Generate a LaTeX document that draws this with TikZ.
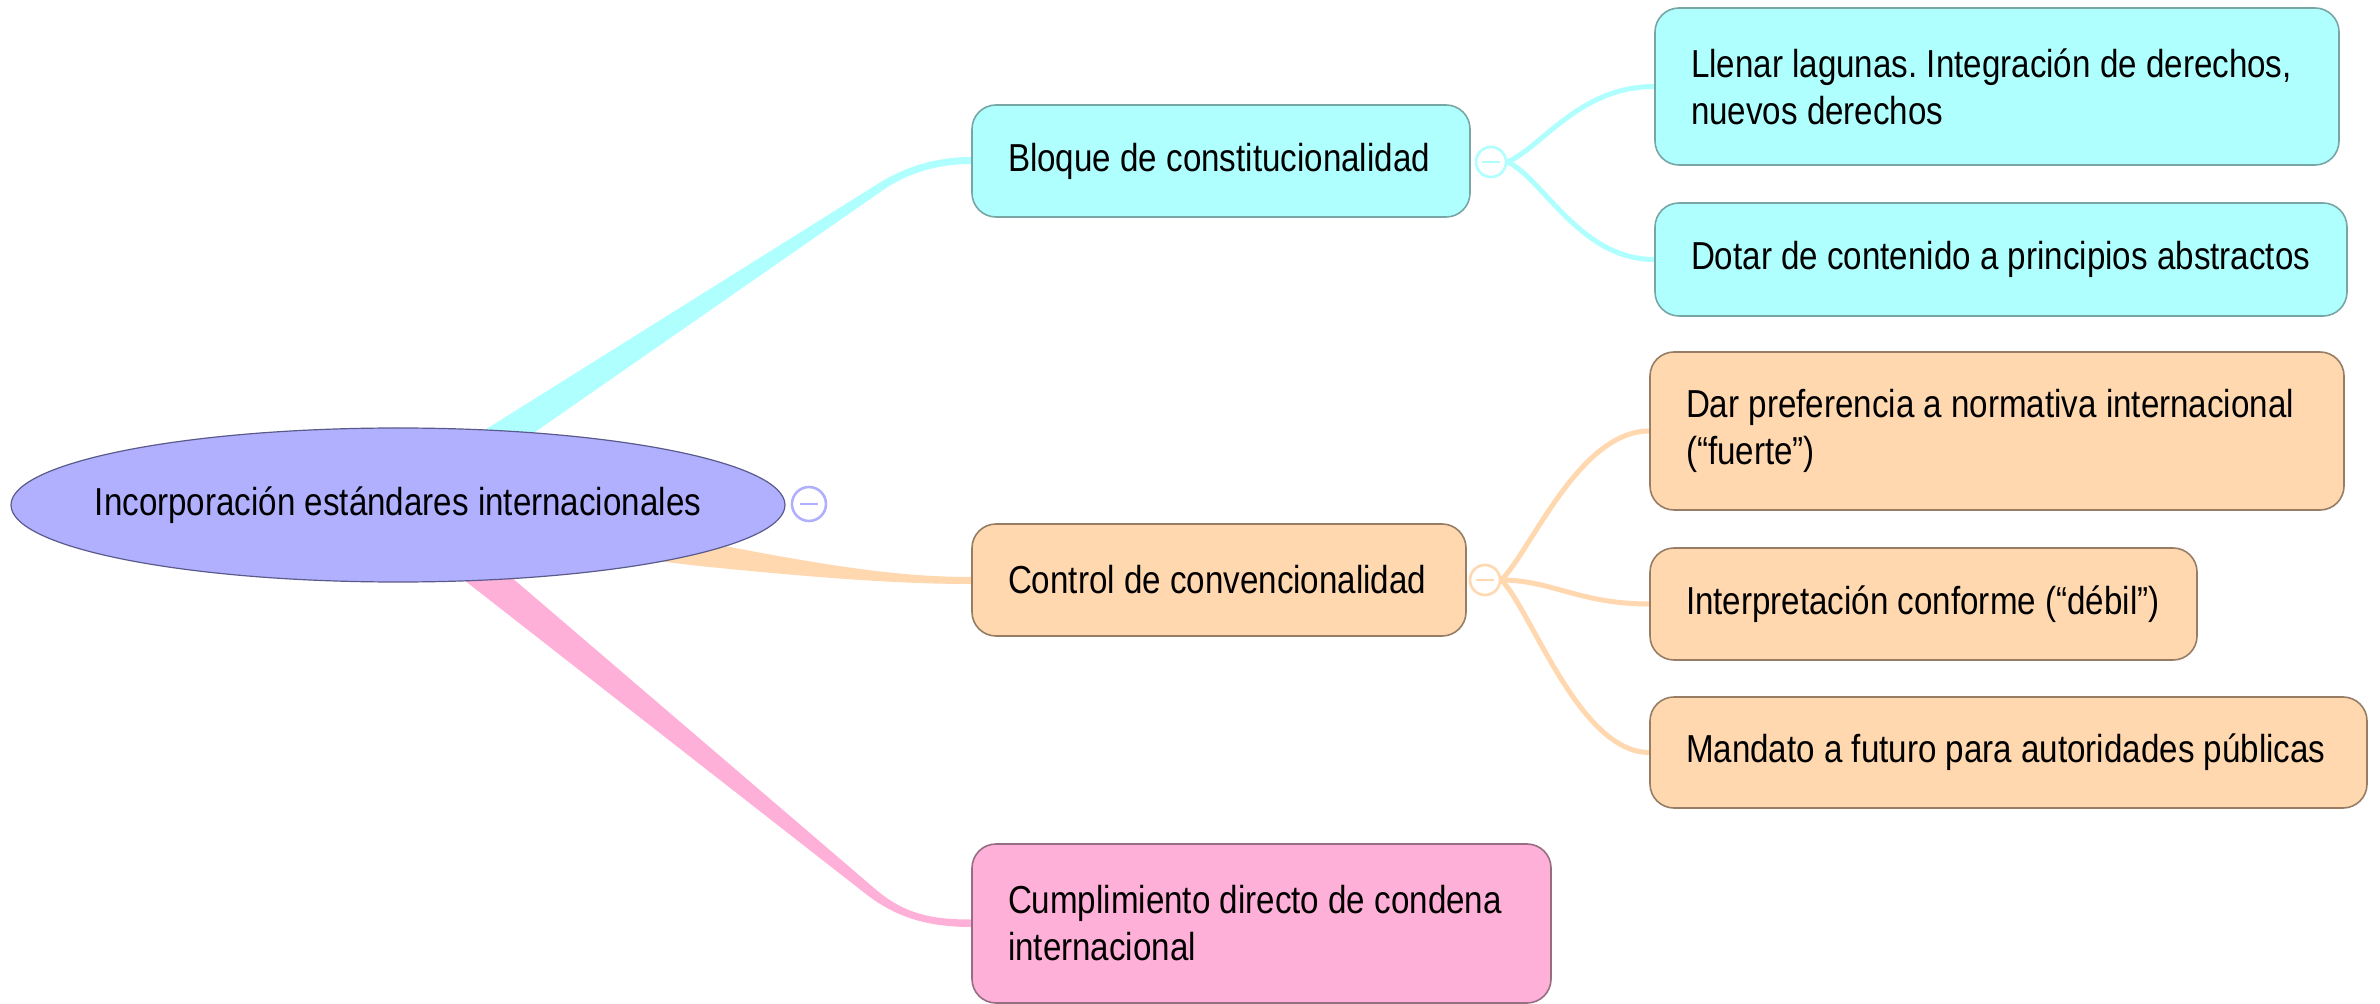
\documentclass[tikz,border=0pt]{standalone}
\usepackage{fontspec}
\setmainfont{Liberation Sans}[FakeStretch=0.85]
\usetikzlibrary{calc}
\pgfdeclarelayer{back}
\pgfdeclarelayer{bg}
\pgfsetlayers{back,bg,main}
\definecolor{cyanf}{RGB}{176,255,255}
\definecolor{cyanb}{RGB}{120,165,165}
\definecolor{peachf}{RGB}{255,216,176}
\definecolor{peachb}{RGB}{150,125,100}
\definecolor{pinkf}{RGB}{255,176,216}
\definecolor{pinkb}{RGB}{150,110,130}
\definecolor{lavf}{RGB}{176,176,255}
\definecolor{lavb}{RGB}{90,90,140}
\frenchspacing
\newcommand\resetsp{\spaceskip=0pt\xspaceskip=0pt\relax}
\begin{document}
\begin{tikzpicture}[x=0.5pt,y=-0.5pt,
  txt/.style={font=\fontsize{19.5pt}{23.5pt}\selectfont, text=black},
  box/.style={txt, rectangle, rounded corners=12pt, line width=0.8pt, inner xsep=18pt, inner ysep=0pt, align=left},
  cbox/.style={box, fill=cyanf, draw=cyanb},
  pbox/.style={box, fill=peachf, draw=peachb},
  kbox/.style={box, fill=pinkf, draw=pinkb},
  tog/.style={circle, fill=white, draw=#1, line width=1.3pt, inner sep=0pt, minimum size=15pt,
    path picture={\draw[#1, line width=1.3pt] ($(path picture bounding box.center)+(-4.3pt,0)$) -- ($(path picture bounding box.center)+(4.3pt,0)$);}},
  sub/.style={line width=2.5pt, #1}
]
\useasboundingbox (0,0) rectangle (2380,1004);
\begin{pgfonlayer}{back}
\fill[white] (0,0) rectangle (2380,1004);
\end{pgfonlayer}

% nodes
\node[txt] (root) at (398,505) {Incorporación estándares internacionales};
\node[tog=lavf, minimum size=17pt] (c0) at (809,504) {};

\node[cbox, minimum width=249pt, minimum height=56pt, text width=213pt] (bloque) at (1221,161) {\resetsp\mbox{Bloque de constitucionalidad}};
\node[tog=cyanf] (c1) at (1491,162) {};
\node[cbox, minimum width=342pt, minimum height=78.5pt, text width=306pt] (llenar) at (1997,86.5) {\resetsp\mbox{Llenar lagunas. Integración de derechos,}\\\mbox{nuevos derechos}};
\node[cbox, minimum width=346pt, minimum height=56.5pt, text width=310pt] (dotar) at (2001,259.5) {\resetsp\mbox{Dotar de contenido a principios abstractos}};

\node[pbox, minimum width=247pt, minimum height=56pt, text width=211pt] (control) at (1219,580) {\resetsp\mbox{Control de convencionalidad}};
\node[tog=peachf] (c2) at (1485,580) {};
\node[pbox, minimum width=347pt, minimum height=79pt, text width=311pt] (dar) at (1997,431) {\resetsp\mbox{Dar preferencia a normativa internacional}\\\mbox{(“fuerte”)}};
\node[pbox, minimum width=273.5pt, minimum height=56pt, text width=237.5pt] (interp) at (1923.5,604) {\resetsp\mbox{Interpretación conforme (“débil”)}};
\node[pbox, minimum width=358.5pt, minimum height=55.5pt, text width=322.5pt] (mandato) at (2008.5,752.5) {\resetsp\mbox{Mandato a futuro para autoridades públicas}};

\node[kbox, minimum width=289.5pt, minimum height=79.5pt, text width=253.5pt] (cumpl) at (1261.5,923.5) {\resetsp\mbox{Cumplimiento directo de condena}\\\mbox{internacional}};

\begin{pgfonlayer}{bg}
% main tapered branches
\fill[cyanf] ($(root.center)+(-33,0)$) -- ($(bloque.west)+(-92,22)$)
  .. controls ($(bloque.west)+(-60,2)$) and ($(bloque.west)+(-27,-4)$) .. ($(bloque.west)+(0,-4)$)
  -- ($(bloque.west)+(0,3)$)
  .. controls ($(bloque.west)+(-27,3)$) and ($(bloque.west)+(-59,9)$) .. ($(bloque.west)+(-88,29)$)
  -- ($(root.center)+(32,0)$) -- cycle;
\fill[peachf] ($(root.center)+(0,-15)$) -- ($(control.west)+(-252,-35)$)
  .. controls ($(control.west)+(-142,-14)$) and ($(control.west)+(-72,-3)$) .. ($(control.west)+(0,-3)$)
  -- ($(control.west)+(0,4)$)
  .. controls ($(control.west)+(-72,4)$) and ($(control.west)+(-152,-2)$) .. ($(control.west)+(-272,-14)$)
  -- ($(root.center)+(0,25)$) -- cycle;
\fill[pinkf] ($(root.center)+(29,0)$) -- ($(cumpl.west)+(-96,-34.5)$)
  .. controls ($(cumpl.west)+(-66,-8.5)$) and ($(cumpl.west)+(-37,-4)$) .. ($(cumpl.west)+(0,-4)$)
  -- ($(cumpl.west)+(0,3.5)$)
  .. controls ($(cumpl.west)+(-42,3.5)$) and ($(cumpl.west)+(-74,-5.5)$) .. ($(cumpl.west)+(-104,-28.5)$)
  -- ($(root.center)+(-30,0)$) -- cycle;
% root ellipse
\fill[lavf] (root.center) ellipse [x radius=193.5pt, y radius=38.5pt];
\draw[lavb, line width=0.6pt] (root.center) ellipse [x radius=193.5pt, y radius=38.5pt];
% sub connectors
\draw[sub=cyanf] (c1.east) .. controls +(35,-15) and +(-75,0) .. (llenar.west);
\draw[sub=cyanf] (c1.east) .. controls +(35,15) and +(-75,0) .. (dotar.west);
\draw[sub=peachf] (c2.east) .. controls +(30,-30) and +(-70,0) .. (dar.west);
\draw[sub=peachf] (c2.east) .. controls +(50,0) and +(-70,0) .. (interp.west);
\draw[sub=peachf] (c2.east) .. controls +(30,30) and +(-70,0) .. (mandato.west);
\end{pgfonlayer}
\end{tikzpicture}
\end{document}
